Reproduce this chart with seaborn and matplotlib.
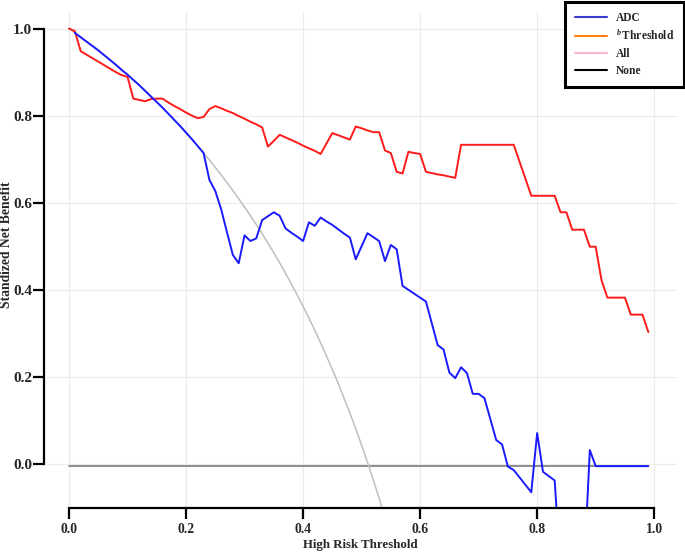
import numpy as np
import pandas as pd
import matplotlib
matplotlib.use("Agg")
import matplotlib.pyplot as plt
from matplotlib.lines import Line2D
import seaborn as sns

# seuils (axe x) et benefices nets standardises
seuils = np.round(np.arange(0, 1.0, 0.01), 2)

adc = [0.990, 0.980, 0.970, 0.960, 0.950, 0.939, 0.928, 0.917, 0.905,
       0.894, 0.882, 0.870, 0.857, 0.844, 0.831, 0.818, 0.804, 0.790, 0.776,
       0.761, 0.746, 0.730, 0.714, 0.652, 0.627, 0.585, 0.532, 0.480, 0.461,
       0.525, 0.512, 0.518, 0.560, 0.569, 0.578, 0.570, 0.541, 0.531, 0.522,
       0.512, 0.555, 0.547, 0.566, 0.557, 0.549, 0.539, 0.529, 0.520, 0.470,
       0.500, 0.530, 0.521, 0.512, 0.466, 0.503, 0.493, 0.409, 0.400, 0.391,
       0.382, 0.373, 0.323, 0.273, 0.263, 0.210, 0.197, 0.222, 0.209, 0.161,
       0.161, 0.151, 0.103, 0.055, 0.045, -0.006, -0.014, -0.031, -0.048, -0.065,
       0.071, -0.018, -0.028, -0.038, -0.250, -0.400, -0.400, -0.400, -0.250, 0.032,
       -0.005, -0.005, -0.005, -0.005, -0.005, -0.005, -0.005, -0.005, -0.005, -0.005]

b_seuil = [1.000, 0.994, 0.948, 0.940, 0.932, 0.924, 0.916, 0.908, 0.900, 0.893,
           0.889, 0.839, 0.836, 0.833, 0.838, 0.839, 0.839, 0.830, 0.822, 0.815,
           0.807, 0.800, 0.794, 0.797, 0.815, 0.822, 0.817, 0.811, 0.806, 0.799,
           0.793, 0.786, 0.780, 0.773, 0.729, 0.742, 0.756, 0.750, 0.744, 0.738,
           0.731, 0.725, 0.719, 0.712, 0.736, 0.760, 0.755, 0.750, 0.745, 0.775,
           0.771, 0.766, 0.762, 0.762, 0.720, 0.714, 0.671, 0.667, 0.717, 0.714,
           0.712, 0.671, 0.668, 0.665, 0.663, 0.660, 0.657, 0.733, 0.733, 0.733,
           0.733, 0.733, 0.733, 0.733, 0.733, 0.733, 0.733, 0.694, 0.655, 0.616,
           0.616, 0.616, 0.616, 0.616, 0.578, 0.578, 0.538, 0.538, 0.538, 0.499,
           0.499, 0.422, 0.382, 0.382, 0.382, 0.382, 0.343, 0.343, 0.343, 0.303]

tous = [1.000, 0.990, 0.980, 0.970, 0.960, 0.950, 0.939, 0.928, 0.917, 0.905,
        0.894, 0.882, 0.870, 0.857, 0.844, 0.831, 0.818, 0.804, 0.790, 0.776,
        0.761, 0.746, 0.730, 0.714, 0.698, 0.681, 0.664, 0.646, 0.628, 0.609,
        0.590, 0.570, 0.550, 0.529, 0.507, 0.485, 0.462, 0.438, 0.413, 0.388,
        0.362, 0.335, 0.307, 0.278, 0.248, 0.217, 0.185, 0.151, 0.117, 0.081,
        0.043, 0.004, -0.037, -0.079, -0.124]

aucun = -0.005

df_adc = pd.DataFrame({"seuil": seuils[1:], "snb": adc})
df_b = pd.DataFrame({"seuil": seuils, "snb": b_seuil})
df_tous = pd.DataFrame({"seuil": seuils[:len(tous)], "snb": tous})
df_aucun = pd.DataFrame({"seuil": seuils, "snb": [aucun] * len(seuils)})

sns.set_theme(style="white")
plt.rcParams["font.family"] = ["Liberation Serif", "DejaVu Serif"]
plt.rcParams["font.weight"] = "bold"
plt.rcParams["mathtext.fontset"] = "custom"
plt.rcParams["mathtext.rm"] = "Liberation Serif:bold"
plt.rcParams["mathtext.it"] = "Liberation Serif:italic:bold"
plt.rcParams["mathtext.bf"] = "Liberation Serif:bold"

fig = plt.figure(figsize=(6.85, 5.54), dpi=100)
ax = fig.add_axes([47 / 685, 46.5 / 554, 630 / 685, 495.5 / 554])

# grille legere
for v in [0, 0.2, 0.4, 0.6, 0.8, 1.0]:
    ax.axvline(v, color="#EBEBEB", lw=0.8, zorder=0)
    ax.axhline(v, color="#EBEBEB", lw=0.8, zorder=0)

sns.lineplot(data=df_aucun, x="seuil", y="snb", color="#6E6E6E", lw=1.1, ax=ax)
sns.lineplot(data=df_tous, x="seuil", y="snb", color="#BEBEBE", lw=1.1, ax=ax)
sns.lineplot(data=df_b, x="seuil", y="snb", color="#FF1A1A", lw=1.4, ax=ax)
sns.lineplot(data=df_adc, x="seuil", y="snb", color="#1A1AFF", lw=1.4, ax=ax)

ax.set_xlim(-0.0376, 1.039)
ax.set_ylim(-0.1, 1.038)
ax.set_xticks([0, 0.2, 0.4, 0.6, 0.8, 1.0])
ax.set_yticks([0, 0.2, 0.4, 0.6, 0.8, 1.0])
ax.set_xticklabels(["0.0", "0.2", "0.4", "0.6", "0.8", "1.0"], fontsize=9.8, fontweight="bold")
ax.set_yticklabels(["0.0", "0.2", "0.4", "0.6", "0.8", "1.0"], fontsize=9.8, fontweight="bold",
                   rotation=90, va="center")

for s in ["top", "right"]:
    ax.spines[s].set_visible(False)
ax.spines["left"].set_position(("outward", 2))
ax.spines["left"].set_bounds(0, 1)
ax.spines["bottom"].set_bounds(0, 1)
for s in ["left", "bottom"]:
    ax.spines[s].set_linewidth(1.6)
    ax.spines[s].set_color("black")
ax.tick_params(axis="both", direction="out", length=7.8, width=1.6, color="black",
               left=True, bottom=True)
ax.tick_params(axis="x", pad=3.5)
ax.tick_params(axis="y", pad=1)

ax.set_xlabel("High Risk Threshold", fontsize=9.3, fontweight="bold")
ax.set_ylabel("Standized Net Benefit", fontsize=9.8, fontweight="bold")
ax.xaxis.set_label_coords(313 / 630, -0.064)
ax.yaxis.set_label_coords(-0.054, 0.530)

poignees = [
    Line2D([], [], color="#3B3BD6", lw=1.5),
    Line2D([], [], color="#FF7F0E", lw=1.5),
    Line2D([], [], color="#FFB6C8", lw=1.5),
    Line2D([], [], color="black", lw=1.5),
]
etiquettes = ["ADC", r"$^{\mathit{b}}\,\mathrm{Threshold}$", "All", "None"]
leg = fig.legend(poignees, etiquettes, loc="upper right", bbox_to_anchor=(684 / 685, 552 / 554),
                 frameon=True, fancybox=False, edgecolor="black", framealpha=1,
                 prop={"family": "Liberation Serif", "weight": "bold", "size": 8.3},
                 handlelength=2.8, handletextpad=0.75, labelspacing=0.42,
                 borderpad=0.85, borderaxespad=0)
leg.get_frame().set_linewidth(2.2)

plt.savefig("out.png", dpi=100)
